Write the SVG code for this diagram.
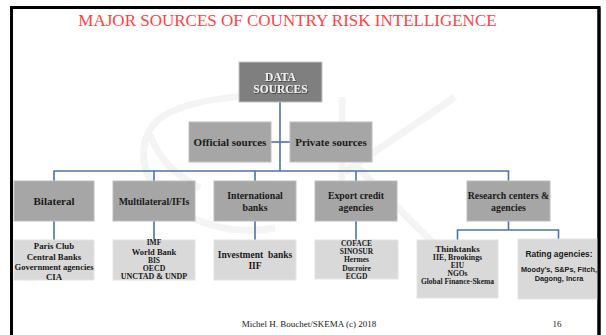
<svg xmlns="http://www.w3.org/2000/svg" width="606" height="335" viewBox="0 0 606 335">
<defs>
<style>
.t{font-family:"Liberation Serif","Times New Roman",serif;font-weight:bold;fill:#1a1a1a;text-anchor:middle}
.ti{font-family:"Liberation Serif","Times New Roman",serif;font-size:17px;fill:#ff4343;text-anchor:middle}
.f{font-family:"Liberation Serif","Times New Roman",serif;font-size:9px;fill:#1a1a1a;text-anchor:middle}
.s{font-family:"Liberation Sans",Arial,sans-serif;font-weight:bold;fill:#1a1a1a;text-anchor:middle}
.b1{fill:#7f7f7f;stroke:#c4c4c4;stroke-width:1}
.b2{fill:#a6a6a6;stroke:#bdbdbd;stroke-width:1}
.b3{fill:#d9d9d9;stroke:#e4e4e4;stroke-width:1}
.c{fill:none;stroke:#4a74ad;stroke-width:1.6}
.w{fill:none;stroke:#f4f4f4;stroke-width:7}
</style>
<filter id="sh" x="-20%" y="-20%" width="140%" height="140%">
<feDropShadow dx="0.8" dy="0.8" stdDeviation="0.3" flood-color="#303030" flood-opacity="0.9"/>
</filter>
</defs>
<rect width="606" height="335" fill="#ffffff"/>
<g id="watermark">
<path class="w" d="M320,99 C270,92 200,95 165,115 C135,133 138,175 165,200 C190,222 230,236 275,228"/>
<path class="w" d="M150,135 C160,160 175,175 200,188"/>
<line class="w" x1="342" y1="97" x2="342" y2="210"/>
<line class="w" x1="455" y1="97" x2="345" y2="172"/>
<line class="w" x1="355" y1="165" x2="445" y2="255"/>
</g>
<path d="M11.5,335 V7.5 H599 V335" fill="none" stroke="#000" stroke-width="3"/>
<text class="ti" x="287.5" y="26">MAJOR SOURCES OF COUNTRY RISK INTELLIGENCE</text>
<g id="connectors">
<path class="c" d="M280,102 V171"/>
<path class="c" d="M271,142 H290"/>
<path class="c" d="M54,181 V171 H508.5 V181"/>
<path class="c" d="M154,171 V181 M255,171 V181 M356,171 V181"/>
<path class="c" d="M54,221 V240 M154,221 V240 M255,221 V240 M356,221 V240"/>
<path class="c" d="M508.5,221 V230 M457.5,240 V230 H558.5 V240"/>
</g>
<g id="data-sources">
<rect class="b1" x="239" y="62" width="83" height="40"/>
<text class="t" x="280.5" y="81" font-size="11.5" style="fill:#f0f0f0" filter="url(#sh)">DATA</text>
<text class="t" x="280.5" y="93.3" font-size="11.5" style="fill:#f0f0f0" filter="url(#sh)">SOURCES</text>
</g>
<g id="official-sources">
<rect class="b2" x="189" y="122" width="82" height="40"/>
<text class="t" x="230" y="146" font-size="11">Official sources</text>
</g>
<g id="private-sources">
<rect class="b2" x="290" y="122" width="82" height="40"/>
<text class="t" x="331" y="146" font-size="11">Private sources</text>
</g>
<g id="bilateral">
<rect class="b2" x="14" y="181" width="80" height="40"/>
<text class="t" x="54" y="205" font-size="11">Bilateral</text>
</g>
<g id="multilateral">
<rect class="b2" x="113" y="181" width="82" height="40"/>
<text class="t" x="154" y="205" font-size="9.8">Multilateral/IFIs</text>
</g>
<g id="international-banks">
<rect class="b2" x="214" y="181" width="82" height="40"/>
<text class="t" x="255" y="199" font-size="9.8">International</text>
<text class="t" x="255" y="211" font-size="9.8">banks</text>
</g>
<g id="export-credit">
<rect class="b2" x="315" y="181" width="82" height="40"/>
<text class="t" x="356" y="199" font-size="9.8">Export credit</text>
<text class="t" x="356" y="211" font-size="9.8">agencies</text>
</g>
<g id="research-centers">
<rect class="b2" x="467" y="181" width="83" height="40"/>
<text class="t" x="508.5" y="199" font-size="9.8">Research centers &amp;</text>
<text class="t" x="508.5" y="211" font-size="9.8">agencies</text>
</g>
<g id="paris-club">
<rect class="b3" x="14" y="240" width="80" height="40"/>
<text class="t" x="54" y="249" font-size="8.8">Paris Club</text>
<text class="t" x="54" y="259.5" font-size="8.8">Central Banks</text>
<text class="t" x="54" y="270" font-size="8.6">Government agencies</text>
<text class="t" x="54" y="279.5" font-size="8.8">CIA</text>
</g>
<g id="imf">
<rect class="b3" x="113" y="240" width="82" height="40"/>
<text class="t" x="154" y="245" font-size="7.5">IMF</text>
<text class="t" x="154" y="255" font-size="8.5">World Bank</text>
<text class="t" x="154" y="263" font-size="7.5">BIS</text>
<text class="t" x="154" y="271.3" font-size="7.8">OECD</text>
<text class="t" x="154" y="279.3" font-size="8">UNCTAD &amp; UNDP</text>
</g>
<g id="investment-banks">
<rect class="b3" x="214" y="240" width="82" height="40"/>
<text class="t" x="255" y="258.3" font-size="9.5" xml:space="preserve">Investment  banks</text>
<text class="t" x="255" y="268.7" font-size="9.5">IIF</text>
</g>
<g id="coface">
<rect class="b3" x="315" y="240" width="83" height="39"/>
<text class="t" x="356.5" y="245.7" font-size="7.5">COFACE</text>
<text class="t" x="356.5" y="254.2" font-size="7.5">SINOSUR</text>
<text class="t" x="356.5" y="262.4" font-size="7.5">Hermes</text>
<text class="t" x="356.5" y="270.7" font-size="7.5">Ducroire</text>
<text class="t" x="356.5" y="279" font-size="7.5">ECGD</text>
</g>
<g id="thinktanks">
<rect class="b3" x="417" y="240" width="81" height="58"/>
<text class="t" x="457.5" y="251.7" font-size="9">Thinktanks</text>
<text class="t" x="457.5" y="260" font-size="7.8">IIE, Brookings</text>
<text class="t" x="457.5" y="267.7" font-size="7.5">EIU</text>
<text class="t" x="457.5" y="276" font-size="7.5">NGOs</text>
<text class="t" x="457.5" y="284.3" font-size="7.5">Global Finance-Skema</text>
</g>
<g id="rating-agencies">
<rect class="b3" x="518" y="239" width="81" height="60"/>
<text class="s" x="559" y="257" font-size="8.4">Rating agencies:</text>
<text class="s" x="559" y="271.5" font-size="7.3">Moody’s, S&amp;Ps, Fitch,</text>
<text class="s" x="559" y="280.5" font-size="7.3">Dagong, Incra</text>
</g>
<path d="M599,7.5 V335" fill="none" stroke="#000" stroke-width="3"/>
<text class="f" x="309" y="327">Michel H. Bouchet/SKEMA (c) 2018</text>
<text class="f" x="557" y="327">16</text>
</svg>
